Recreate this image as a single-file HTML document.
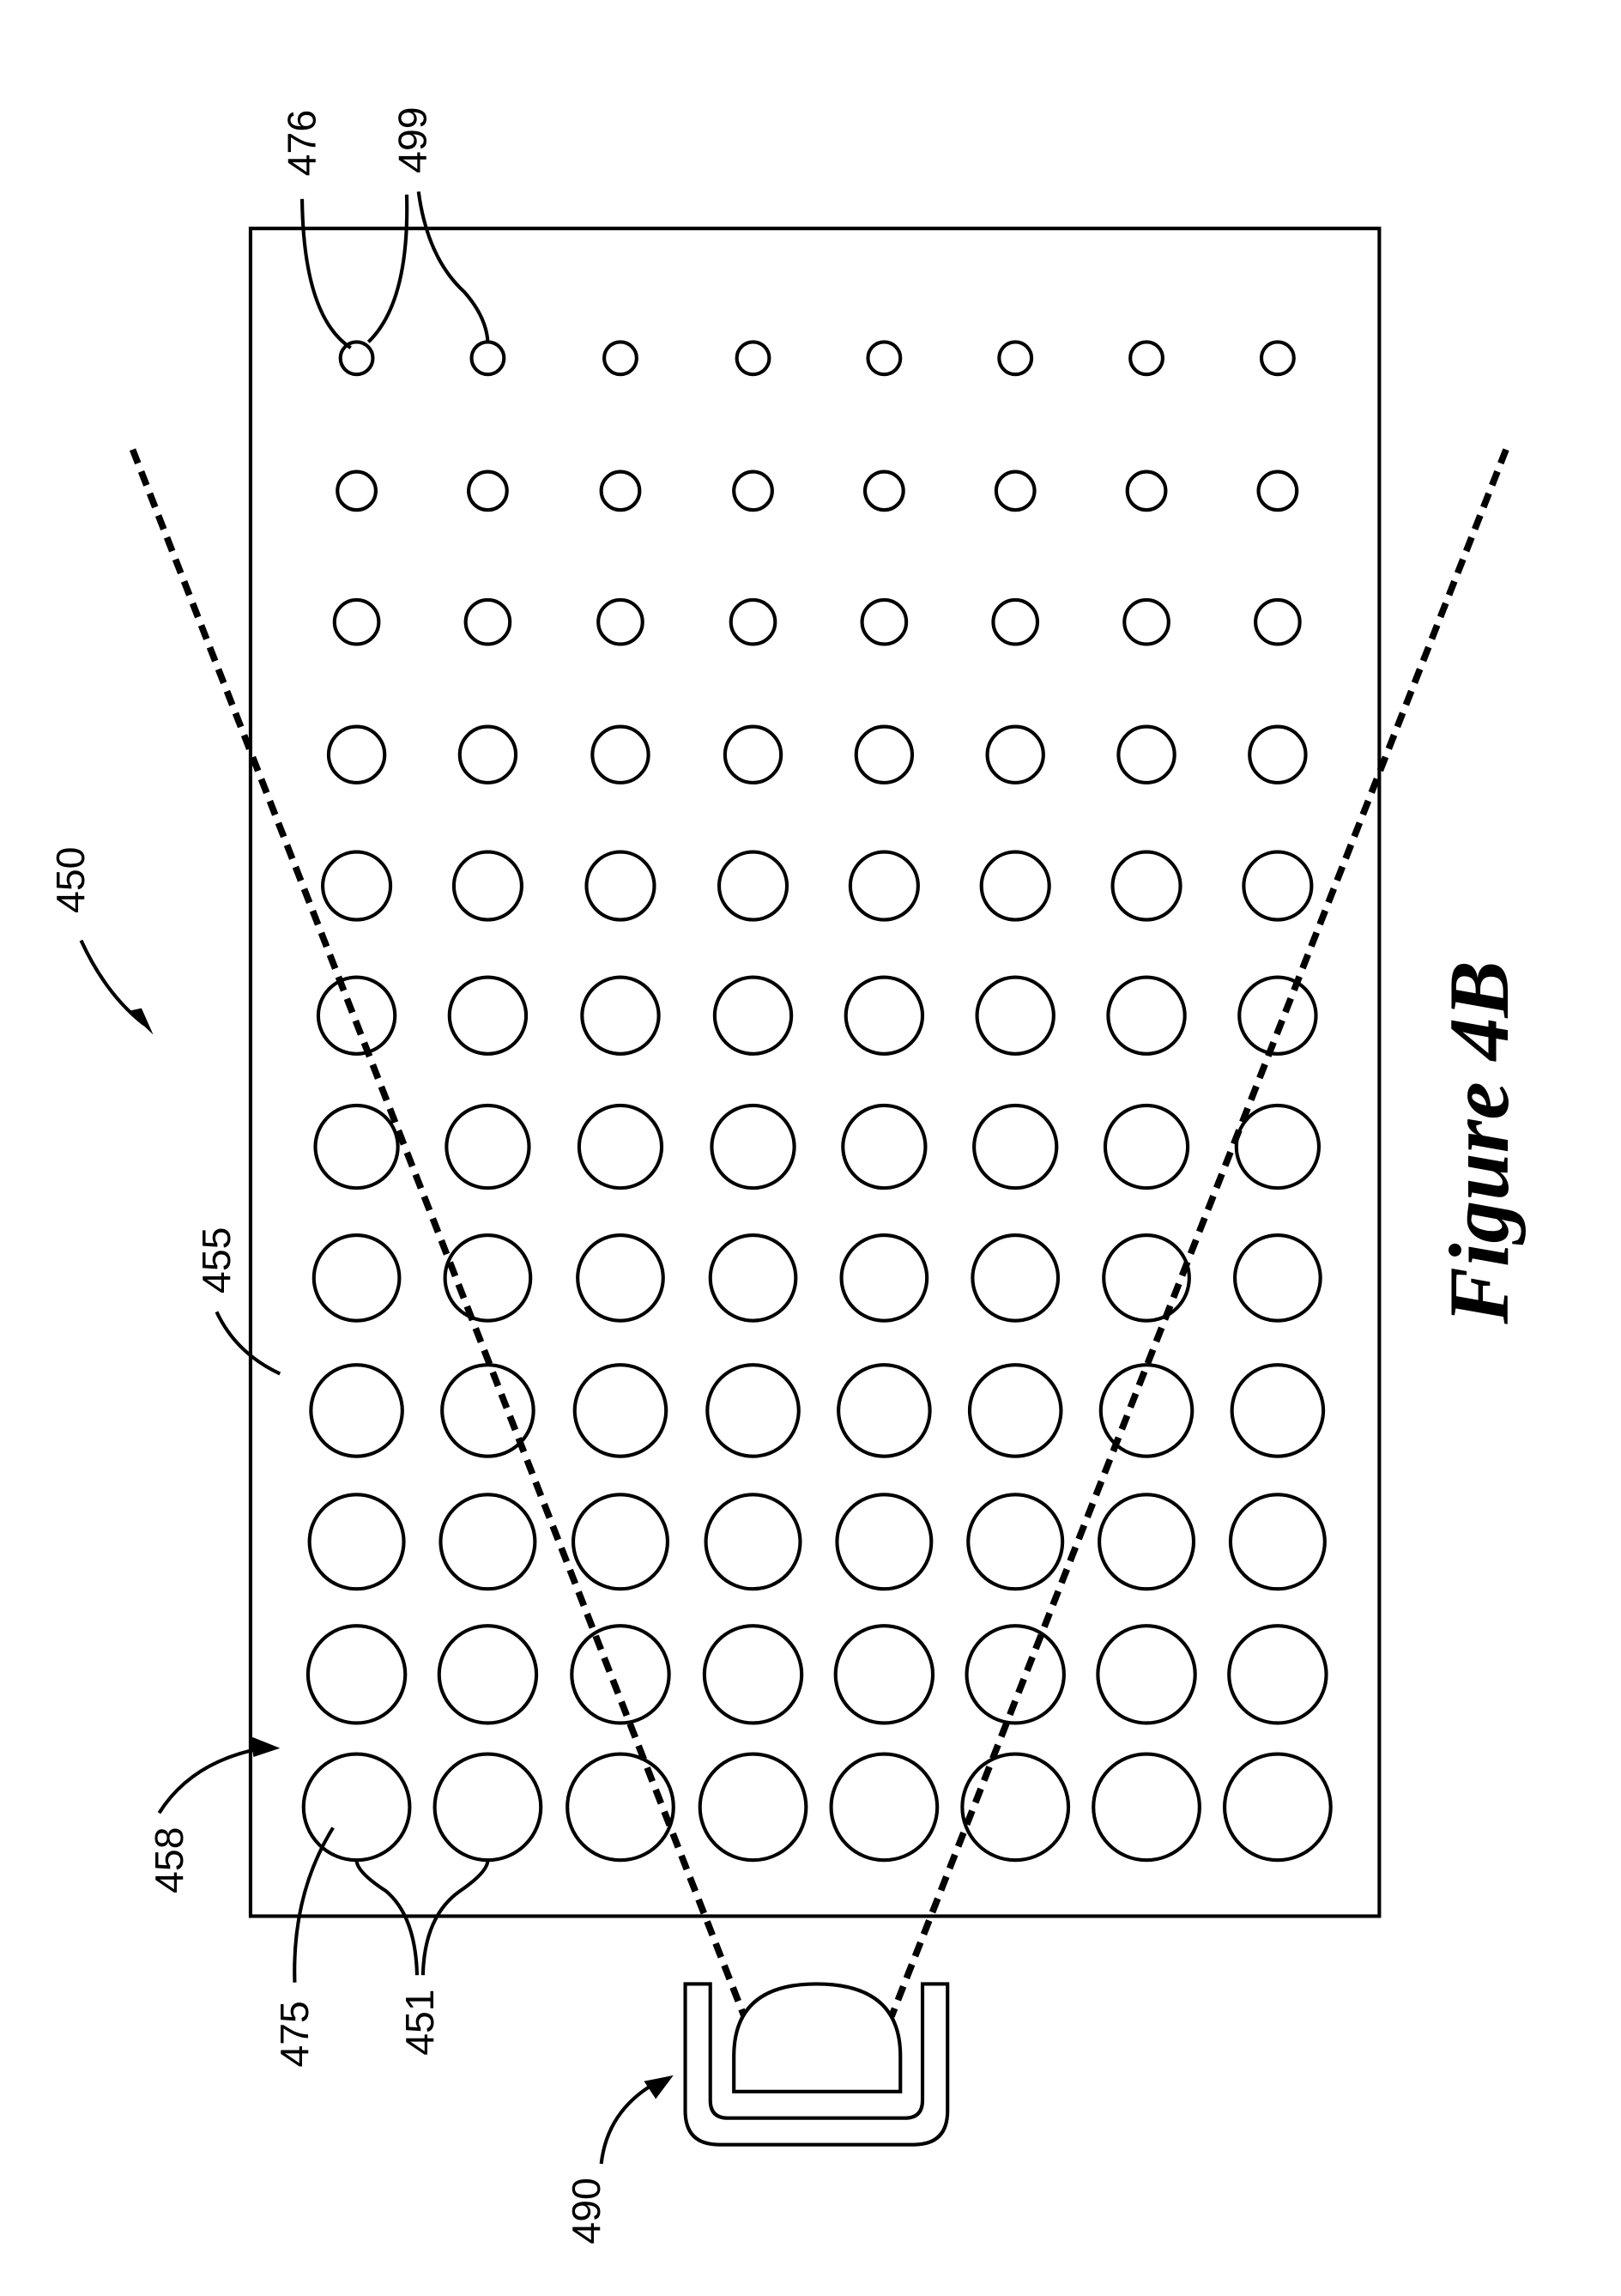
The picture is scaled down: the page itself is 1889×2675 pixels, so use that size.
<!DOCTYPE html>
<html><head><style>html,body{margin:0;padding:0;background:#fff}svg{display:block}</style></head>
<body>
<svg width="1889" height="2675" viewBox="0 0 1100 1557.7" preserveAspectRatio="none" xmlns="http://www.w3.org/2000/svg">
<g fill="none" stroke="#000" stroke-width="2.4">
<rect x="170" y="155" width="766" height="1145"/>
<g transform="translate(0,243)">
<circle cx="242" r="11"/><circle cx="331" r="11"/><circle cx="421" r="11"/><circle cx="511" r="11"/><circle cx="600" r="11"/><circle cx="689" r="11"/><circle cx="778" r="11"/><circle cx="867" r="11"/>
</g>
<g transform="translate(0,333)">
<circle cx="242" r="13"/><circle cx="331" r="13"/><circle cx="421" r="13"/><circle cx="511" r="13"/><circle cx="600" r="13"/><circle cx="689" r="13"/><circle cx="778" r="13"/><circle cx="867" r="13"/>
</g>
<g transform="translate(0,422)">
<circle cx="242" r="15"/><circle cx="331" r="15"/><circle cx="421" r="15"/><circle cx="511" r="15"/><circle cx="600" r="15"/><circle cx="689" r="15"/><circle cx="778" r="15"/><circle cx="867" r="15"/>
</g>
<g transform="translate(0,512)">
<circle cx="242" r="19"/><circle cx="331" r="19"/><circle cx="421" r="19"/><circle cx="511" r="19"/><circle cx="600" r="19"/><circle cx="689" r="19"/><circle cx="778" r="19"/><circle cx="867" r="19"/>
</g>
<g transform="translate(0,601)">
<circle cx="242" r="23"/><circle cx="331" r="23"/><circle cx="421" r="23"/><circle cx="511" r="23"/><circle cx="600" r="23"/><circle cx="689" r="23"/><circle cx="778" r="23"/><circle cx="867" r="23"/>
</g>
<g transform="translate(0,689)">
<circle cx="242" r="26"/><circle cx="331" r="26"/><circle cx="421" r="26"/><circle cx="511" r="26"/><circle cx="600" r="26"/><circle cx="689" r="26"/><circle cx="778" r="26"/><circle cx="867" r="26"/>
</g>
<g transform="translate(0,778)">
<circle cx="242" r="28"/><circle cx="331" r="28"/><circle cx="421" r="28"/><circle cx="511" r="28"/><circle cx="600" r="28"/><circle cx="689" r="28"/><circle cx="778" r="28"/><circle cx="867" r="28"/>
</g>
<g transform="translate(0,867)">
<circle cx="242" r="29"/><circle cx="331" r="29"/><circle cx="421" r="29"/><circle cx="511" r="29"/><circle cx="600" r="29"/><circle cx="689" r="29"/><circle cx="778" r="29"/><circle cx="867" r="29"/>
</g>
<g transform="translate(0,957)">
<circle cx="242" r="31"/><circle cx="331" r="31"/><circle cx="421" r="31"/><circle cx="511" r="31"/><circle cx="600" r="31"/><circle cx="689" r="31"/><circle cx="778" r="31"/><circle cx="867" r="31"/>
</g>
<g transform="translate(0,1046)">
<circle cx="242" r="32"/><circle cx="331" r="32"/><circle cx="421" r="32"/><circle cx="511" r="32"/><circle cx="600" r="32"/><circle cx="689" r="32"/><circle cx="778" r="32"/><circle cx="867" r="32"/>
</g>
<g transform="translate(0,1136)">
<circle cx="242" r="33"/><circle cx="331" r="33"/><circle cx="421" r="33"/><circle cx="511" r="33"/><circle cx="600" r="33"/><circle cx="689" r="33"/><circle cx="778" r="33"/><circle cx="867" r="33"/>
</g>
<g transform="translate(0,1226)">
<circle cx="242" r="36"/><circle cx="331" r="36"/><circle cx="421" r="36"/><circle cx="511" r="36"/><circle cx="600" r="36"/><circle cx="689" r="36"/><circle cx="778" r="36"/><circle cx="867" r="36"/>
</g>
</g>
<g fill="none" stroke="#000" stroke-width="4.5" stroke-dasharray="10,6">
<line x1="90" y1="305" x2="505" y2="1368"/>
<line x1="1022" y1="305" x2="605" y2="1368"/>
</g>
<g fill="none" stroke="#000" stroke-width="2.4">
<path d="M465 1346 V1432 Q465 1455 488 1455 H620 Q643 1455 643 1432 V1346 H626 V1425 Q626 1437 614 1437 H494 Q482 1437 482 1425 V1346 Z" fill="#fff"/>
<path d="M498 1419 V1395 Q498 1346 554 1346 Q611 1346 611 1395 V1419 Z" fill="#fff"/>
<path d="M205 135 Q206 215 238 236"/>
<path d="M276 132 Q278 205 250 232"/>
<path d="M284 130 Q290 175 315 198 Q330 215 331 232"/>
<path d="M55 638 Q72 675 98 695"/>
<path d="M147 890 Q160 918 190 932"/>
<path d="M108 1230 Q130 1195 178 1186"/>
<path d="M200 1345 Q198 1285 226 1240"/>
<path d="M283 1340 Q282 1300 262 1283 Q242 1270 242 1262"/>
<path d="M287 1340 Q288 1300 312 1283 Q331 1270 331 1262"/>
<path d="M408 1468 Q412 1432 445 1413"/>
</g>
<g fill="#000">
<polygon points="104,702 87,686 96,684"/>
<polygon points="190,1186 170,1178 172,1192"/>
<polygon points="457,1408 437,1412 445,1424"/>
</g>
<g font-family="Liberation Sans, sans-serif" font-size="27" fill="#000" text-anchor="middle">
<text transform="translate(214,97) rotate(-90)">476</text>
<text transform="translate(289,95) rotate(-90)">499</text>
<text transform="translate(57,597) rotate(-90)">450</text>
<text transform="translate(156,855) rotate(-90)">455</text>
<text transform="translate(124,1262) rotate(-90)">458</text>
<text transform="translate(209,1380) rotate(-90)">475</text>
<text transform="translate(294,1372) rotate(-90)">451</text>
<text transform="translate(407,1500) rotate(-90)">490</text>
</g>
<text transform="translate(1023,775) rotate(-90)" font-family="Liberation Serif, serif" font-size="58" font-weight="bold" font-style="italic" text-anchor="middle">Figure 4B</text>
</svg>
</body></html>
